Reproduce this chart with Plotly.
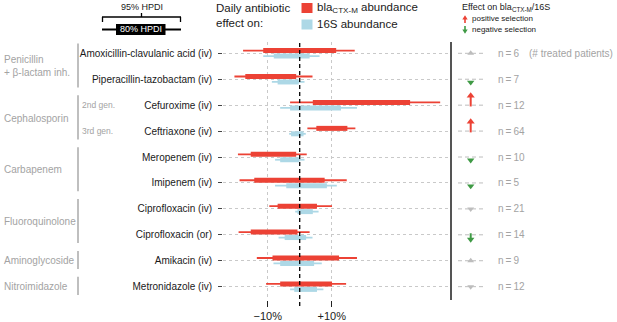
import plotly.graph_objects as go

# ---------------- data ----------------
drugs = ["Amoxicillin-clavulanic acid (iv)", "Piperacillin-tazobactam (iv)", "Cefuroxime (iv)",
         "Ceftriaxone (iv)", "Meropenem (iv)", "Imipenem (iv)", "Ciprofloxacin (iv)",
         "Ciprofloxacin (or)", "Amikacin (iv)", "Metronidazole (iv)"]

bla_95_lo = [-17.7, -20.4, -3.0, 2.4, -19.3, -18.8, -9.5, -19.1, -13.4, -10.5]
bla_95_hi = [17.2, 4.0, 43.9, 17.4, 2.2, 14.7, 10.1, 3.1, 17.9, 14.5]
bla_80_lo = [-11.4, -17.0, 4.1, 5.2, -15.3, -14.2, -6.9, -15.3, -8.5, -6.1]
bla_80_hi = [11.4, -1.1, 34.5, 14.9, -1.1, 7.8, 5.4, -0.7, 12.3, 10.1]

s16_95_lo = [-11.4, -8.7, -6.1, -3.3, -7.7, -7.7, -1.4, -6.6, -8.2, -3.0]
s16_95_hi = [6.2, 1.5, 17.9, 1.9, 1.5, 11.6, 5.9, 4.0, 6.9, 7.4]
s16_80_lo = [-8.1, -6.9, -3.0, -2.7, -6.1, -4.2, -0.7, -4.7, -6.1, -1.7]
s16_80_hi = [3.1, -0.3, 12.9, 1.2, -0.1, 8.5, 4.1, 2.0, 4.5, 5.4]

n_patients = [6, 7, 12, 64, 10, 5, 21, 14, 9, 12]
selection = ["ns_up", "neg", "pos", "pos", "neg", "neg", "ns_down", "neg_long", "ns_up", "ns_down"]

groups = [("Penicillin<br>+ β-lactam inh.", 0, 1), ("Cephalosporin", 2, 3), ("Carbapenem", 4, 5),
          ("Fluoroquinolone", 6, 7), ("Aminoglycoside", 8, 8), ("Nitroimidazole", 9, 9)]
subgroups = [("2nd gen.", 2), ("3rd gen.", 3)]

x_tickvals = [-10, 10]
x_ticktext = ["−10%", "+10%"]

# ---------------- style ----------------
W, H = 617, 322
RED = "#EC4235"
BLUE = "#ADD8E6"
GREEN = "#3F9A45"
GRAYTXT = "#A3A3A3"
GRIDC = "#C9C9C9"
FONT = "Liberation Sans, Arial, sans-serif"


def fx(p):
    return p / W


def fy(p):
    return 1 - p / H


rows = list(range(len(drugs)))
OFF = 0.105


def seg(lo, hi, dy):
    xs, ys = [], []
    for i, (a, b) in enumerate(zip(lo, hi)):
        xs += [a, b, None]
        ys += [i + dy, i + dy, None]
    return xs, ys


fig = go.Figure()
for lo, hi, dy, col, w in [(s16_95_lo, s16_95_hi, OFF, BLUE, 1.8),
                           (s16_80_lo, s16_80_hi, OFF, BLUE, 5),
                           (bla_95_lo, bla_95_hi, -OFF, RED, 1.8),
                           (bla_80_lo, bla_80_hi, -OFF, RED, 5)]:
    xs, ys = seg(lo, hi, dy)
    fig.add_trace(go.Scatter(x=xs, y=ys, mode="lines", line=dict(color=col, width=w),
                             hoverinfo="skip", showlegend=False, xaxis="x", yaxis="y"))

# right panel: dashes
dx, dy_ = [], []
for i in rows:
    dx += [6, 31, None]
    dy_ += [i, i, None]
fig.add_trace(go.Scatter(x=dx, y=dy_, mode="lines", line=dict(color="#BDBDBD", width=1, dash="4px,3px"),
                         hoverinfo="skip", showlegend=False, xaxis="x2", yaxis="y2"))

MX = 18.7
# non-significant
for kind, sym in [("ns_up", "triangle-up"), ("ns_down", "triangle-down")]:
    ys = [i for i in rows if selection[i] == kind]
    fig.add_trace(go.Scatter(x=[MX] * len(ys), y=ys, mode="markers",
                             marker=dict(symbol=sym, size=6, color="#BDBDBD"),
                             hoverinfo="skip", showlegend=False, xaxis="x2", yaxis="y2", cliponaxis=False))
# positive selection arrows
sx, sy, hy = [], [], []
for i in rows:
    if selection[i] == "pos":
        sx += [MX, MX, None]
        sy += [i + 0.05, i - 0.32, None]
        hy.append(i - 0.36)
fig.add_trace(go.Scatter(x=sx, y=sy, mode="lines", line=dict(color=RED, width=2),
                         hoverinfo="skip", showlegend=False, xaxis="x2", yaxis="y2"))
fig.add_trace(go.Scatter(x=[MX] * len(hy), y=hy, mode="markers",
                         marker=dict(symbol="triangle-up", size=7, color=RED),
                         hoverinfo="skip", showlegend=False, xaxis="x2", yaxis="y2", cliponaxis=False))
# negative selection arrows
gx, gy, ghy = [], [], []
for i in rows:
    if selection[i] == "neg":
        ghy.append(i + 0.12)
    elif selection[i] == "neg_long":
        gx += [MX, MX, None]
        gy += [i - 0.06, i + 0.14, None]
        ghy.append(i + 0.18)
fig.add_trace(go.Scatter(x=gx, y=gy, mode="lines", line=dict(color=GREEN, width=2),
                         hoverinfo="skip", showlegend=False, xaxis="x2", yaxis="y2"))
fig.add_trace(go.Scatter(x=[MX] * len(ghy), y=ghy, mode="markers",
                         marker=dict(symbol="triangle-down", size=6.5, color=GREEN),
                         hoverinfo="skip", showlegend=False, xaxis="x2", yaxis="y2", cliponaxis=False))

yrange = [len(drugs) - 0.486, -0.436]
LEFT = 223
x_dom = [fx(LEFT), fx(452)]
y_dom = [fy(300), fy(42)]
PX_PER_PCT = 3.2
ZERO_PX = 299.7

fig.update_layout(
    width=W, height=H, margin=dict(l=0, r=0, t=0, b=0), autosize=False,
    paper_bgcolor="white", plot_bgcolor="white",
    font=dict(family=FONT, size=10, color="#1A1A1A"),
    xaxis=dict(domain=x_dom, range=[(LEFT - ZERO_PX) / PX_PER_PCT, (452 - ZERO_PX) / PX_PER_PCT],
               tickvals=x_tickvals, ticktext=x_ticktext,
               ticks="outside", ticklen=6, tickwidth=1.2, tickcolor="#222",
               tickfont=dict(size=11, color="#222"), showgrid=True, gridcolor=GRIDC, griddash="3px,3px",
               gridwidth=1, zeroline=False, showline=False, anchor="y", fixedrange=True),
    yaxis=dict(domain=y_dom, range=yrange, tickvals=rows, ticktext=drugs, ticks="outside",
               ticklen=4, tickcolor="#444", tickwidth=1, tickfont=dict(size=10, color="#1A1A1A"),
               ticklabelstandoff=4,
               showgrid=True, gridcolor=GRIDC, griddash="3px,3px", gridwidth=1, zeroline=False,
               showline=False, anchor="x", automargin=False, fixedrange=True),
    xaxis2=dict(domain=[fx(452), 1], range=[0, 165], visible=False, anchor="y2", fixedrange=True),
    yaxis2=dict(domain=y_dom, range=yrange, anchor="x2", showgrid=False, zeroline=False,
                showticklabels=False, ticks="", showline=True, linecolor="#555", linewidth=1.5,
                side="left", fixedrange=True),
)

shapes = []
# zero line (extends below the panel like the tick marks)
shapes.append(dict(type="line", xref="x", yref="y domain", x0=0, x1=0, y0=-6 / 258, y1=1,
                   line=dict(color="black", width=1.3, dash="4px,3px")))
# group lines
for name, a, b in groups:
    shapes.append(dict(type="line", xref="paper", yref="y", x0=fx(78), x1=fx(78),
                       y0=a - 0.38, y1=b + 0.32, line=dict(color="#AAAAAA", width=1.5)))
# legend squares
shapes.append(dict(type="rect", xref="paper", yref="paper", x0=fx(301.5), x1=fx(312.5),
                   y0=fy(13), y1=fy(3), fillcolor=RED, line=dict(width=0)))
shapes.append(dict(type="rect", xref="paper", yref="paper", x0=fx(301.5), x1=fx(312.5),
                   y0=fy(29.5), y1=fy(19.5), fillcolor=BLUE, line=dict(width=0)))
# HPDI legend
blk = dict(color="black", width=1.3)
shapes += [
    dict(type="line", xref="paper", yref="paper", x0=fx(102), x1=fx(181), y0=fy(17), y1=fy(17), line=blk),
    dict(type="line", xref="paper", yref="paper", x0=fx(102.5), x1=fx(102.5), y0=fy(17), y1=fy(22), line=blk),
    dict(type="line", xref="paper", yref="paper", x0=fx(180.5), x1=fx(180.5), y0=fy(17), y1=fy(22), line=blk),
    dict(type="line", xref="paper", yref="paper", x0=fx(141.5), x1=fx(141.5), y0=fy(13), y1=fy(17), line=blk),
    dict(type="line", xref="paper", yref="paper", x0=fx(102), x1=fx(181), y0=fy(29.5), y1=fy(29.5),
         line=dict(color="black", width=2)),
    dict(type="rect", xref="paper", yref="paper", x0=fx(116), x1=fx(165.5), y0=fy(35), y1=fy(24),
         fillcolor="black", line=dict(width=0)),
]


def poly(pts):
    return "M " + " L ".join(f"{fx(a):.5f},{fy(b):.5f}" for a, b in pts) + " Z"


# legend arrows (selection key)
shapes.append(dict(type="path", xref="paper", yref="paper", fillcolor=RED, line=dict(width=0),
                   path=poly([(464.2, 23), (464.2, 19.5), (462.3, 19.5), (465, 15.3),
                              (467.7, 19.5), (465.8, 19.5), (465.8, 23)])))
shapes.append(dict(type="path", xref="paper", yref="paper", fillcolor=GREEN, line=dict(width=0),
                   path=poly([(464.2, 26), (464.2, 29.5), (462.3, 29.5), (465, 33.7),
                              (467.7, 29.5), (465.8, 29.5), (465.8, 26)])))
fig.update_layout(shapes=shapes)

ann = []


def A(text, x, y, size=10, color="#1A1A1A", xanchor="left", xref="paper", yref="paper", **kw):
    d = dict(text=text, x=x, y=y, xref=xref, yref=yref, showarrow=False, xanchor=xanchor,
             yanchor="middle", font=dict(size=size, color=color, family=FONT), borderpad=0)
    d.update(kw)
    ann.append(d)


A("95% HPDI", fx(141.5), fy(7.5), size=9, xanchor="center")
A("80% HPDI", fx(141), fy(29.5), size=9, color="white", xanchor="center")
A("Daily antibiotic", fx(214.5), fy(8), size=11.5)
A("effect on:", fx(214.5), fy(23), size=11.5)
A("bla<sub>CTX-M</sub> abundance", fx(316), fy(8), size=11.5)
A("16S abundance", fx(316), fy(24), size=11.5)
A("Effect on bla<sub>CTX-M</sub>/16S", fx(461), fy(7.5), size=9)
A("positive selection", fx(471), fy(19), size=8)
A("negative selection", fx(471), fy(29), size=8)
for name, a, b in groups:
    A(name, fx(2.5), (a + b) / 2, size=10, color=GRAYTXT, yref="y", align="left")
for name, r in subgroups:
    A(name, fx(80.5), r, size=8.5, color=GRAYTXT, yref="y")
for i, n in enumerate(n_patients):
    A(f"n\u2009=\u2009{n}", 44.5, i, size=10, color=GRAYTXT, xref="x2", yref="y2")
A("(# treated patients)", 76, 0, size=10, color=GRAYTXT, xref="x2", yref="y2")
fig.update_layout(annotations=ann)

fig.write_html("out.html", config={"displayModeBar": False},
               post_script="document.body.style.margin='0px';document.body.style.padding='0px';")
